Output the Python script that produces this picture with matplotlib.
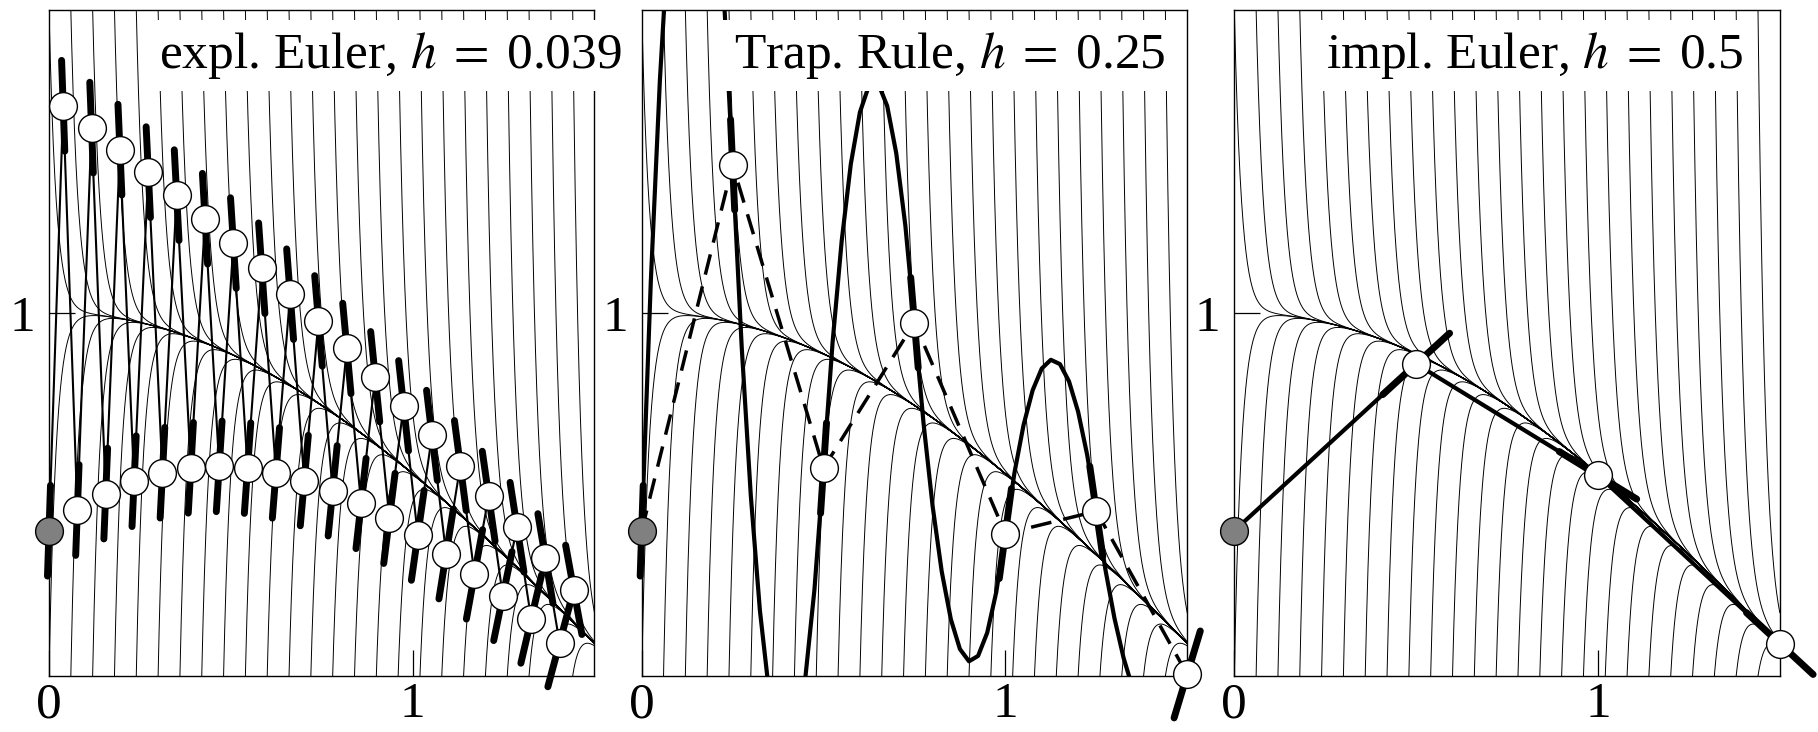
#!/usr/bin/env python3

import numpy as np
import matplotlib
matplotlib.use("Agg")
import matplotlib.pyplot as plt

# stiff test problem  y' = -50 (y - cos x),  y(0) = 0.4
LAM = 50.0
X_MAX = 1.5
Y_MAX = 1.8337

titles = [r"expl. Euler, $h\;=\;$0.039", r"Trap. Rule, $h\;=\;$0.25", r"impl. Euler, $h\;=\;$0.5"]
title_x = [0.303, 0.253, 0.251]
title_y = 1.6735

# explicit Euler, h = 0.039
euler_h = 0.039
euler_y = [0.4000, 1.5700, 0.4570, 1.5099, 0.5023, 1.4492, 0.5363, 1.3873, 0.5598,
           1.3240, 0.5733, 1.2590, 0.5773, 1.1919, 0.5724, 1.1227, 0.5592, 1.0513,
           0.5381, 0.9777, 0.5099, 0.9019, 0.4750, 0.8240, 0.4339, 0.7441, 0.3873,
           0.6625, 0.3358, 0.5794, 0.2798, 0.4950, 0.2200, 0.4096, 0.1569, 0.3236,
           0.0911, 0.2372]

# trapezoidal rule, h = 0.25
trap_x = [0.0, 0.25, 0.5, 0.75, 1.0, 1.25, 1.5]
trap_y = [0.4000, 1.4077, 0.5724, 0.9728, 0.3921, 0.4537, 0.0043]

# implicit Euler, h = 0.5
impl_x = [0.0, 0.5, 1.0, 1.5]
impl_y = [0.4000, 0.8592, 0.5526, 0.0893]

# exact solutions drawn behind, they cross the top and bottom edge at these x
family_x = [0.00, 0.06, 0.12, 0.18, 0.24, 0.30, 0.36, 0.42, 0.48, 0.54, 0.60, 0.66,
            0.72, 0.78, 0.84, 0.90, 0.96, 1.02, 1.08, 1.14, 1.20, 1.26, 1.32, 1.38, 1.44]


def f(x, y):
    return -LAM * (y - np.cos(x))


def y_smooth(x):
    return (LAM**2 * np.cos(x) + LAM * np.sin(x)) / (LAM**2 + 1)


def exact(x0, y0, x):
    return y_smooth(x) + (y0 - y_smooth(x0)) * np.exp(-LAM * (x - x0))


def draw_family(ax):
    for xk in family_x:
        xs = np.linspace(xk - 0.03, X_MAX, 1500)
        ax.plot(xs, exact(xk, Y_MAX, xs), color="black", lw=0.7, zorder=1)
        xs = np.linspace(xk - 0.01, X_MAX, 1500)
        ax.plot(xs, exact(xk, 0.0, xs), color="black", lw=0.7, zorder=1)


def draw_tangents(ax, xs, ys, half=0.125):
    # short thick pieces with the slope of the vector field
    for x, y in zip(xs, ys):
        s = f(x, y)
        dx = half / np.hypot(1.0, s)
        ax.plot([x - dx, x + dx], [y - s * dx, y + s * dx], color="black", lw=5,
                solid_capstyle="round", clip_on=False, zorder=4)


def draw_points(ax, xs, ys):
    ax.plot(xs[1:], ys[1:], "o", ms=20, mfc="white", mec="black", mew=1.0,
            clip_on=False, zorder=5)
    ax.plot(xs[:1], ys[:1], "o", ms=20, mfc="#808080", mec="black", mew=1.0,
            clip_on=False, zorder=5)


def style_axes(ax, k):
    ax.set_xlim(0, X_MAX)
    ax.set_ylim(0, Y_MAX)
    ax.set_xticks([0, 1])
    ax.set_xticklabels(["0", "1"])
    ax.set_yticks([1])
    ax.set_yticklabels(["1"])
    ax.tick_params(direction="in", length=19, width=0.9, labelsize=37)
    ax.tick_params(axis="x", pad=4)
    ax.tick_params(axis="y", pad=10)
    for sp in ax.spines.values():
        sp.set_linewidth(1.0)
    ax.text(title_x[k], title_y, titles[k], fontsize=37, ha="left", va="baseline",
            zorder=6, clip_on=False,
            bbox=dict(boxstyle="square,pad=0.2", fc="white", ec="none"))


def main():
    plt.rcParams["font.family"] = ["Liberation Serif", "DejaVu Serif"]
    plt.rcParams["mathtext.fontset"] = "stix"

    euler_x = [n * euler_h for n in range(len(euler_y))]

    fig = plt.figure(figsize=(18.18, 7.32), dpi=100)
    lefts = [49, 641.7, 1234.3]
    axes = [fig.add_axes([l / 1818, 56 / 732, 545.5 / 1818, 666 / 732]) for l in lefts]

    # expl. Euler
    ax = axes[0]
    draw_family(ax)
    ax.plot(euler_x, euler_y, color="black", lw=1.5, zorder=3)
    draw_tangents(ax, euler_x, euler_y)
    draw_points(ax, euler_x, euler_y)
    style_axes(ax, 0)

    # trapezoidal rule, dashed polygon plus its quadratic collocation pieces
    ax = axes[1]
    draw_family(ax)
    ax.plot(trap_x, trap_y, color="black", lw=2.5, dashes=(6, 3.5), zorder=3)
    for i in range(len(trap_x) - 1):
        x0, x1, y0, y1 = trap_x[i], trap_x[i + 1], trap_y[i], trap_y[i + 1]
        hh = x1 - x0
        s0, s1 = f(x0, y0), f(x1, y1)
        t = np.linspace(0, hh, 11)
        ax.plot(x0 + t, y0 + s0 * t + (s1 - s0) * t**2 / (2 * hh), color="black",
                lw=3, zorder=3)
    draw_tangents(ax, trap_x, trap_y)
    draw_points(ax, trap_x, trap_y)
    style_axes(ax, 1)

    # impl. Euler
    ax = axes[2]
    draw_family(ax)
    ax.plot(impl_x, impl_y, color="black", lw=3, zorder=3)
    draw_tangents(ax, impl_x[1:], impl_y[1:])
    draw_points(ax, impl_x, impl_y)
    style_axes(ax, 2)

    fig.savefig("out.png", dpi=100)


if __name__ == "__main__":
    main()
